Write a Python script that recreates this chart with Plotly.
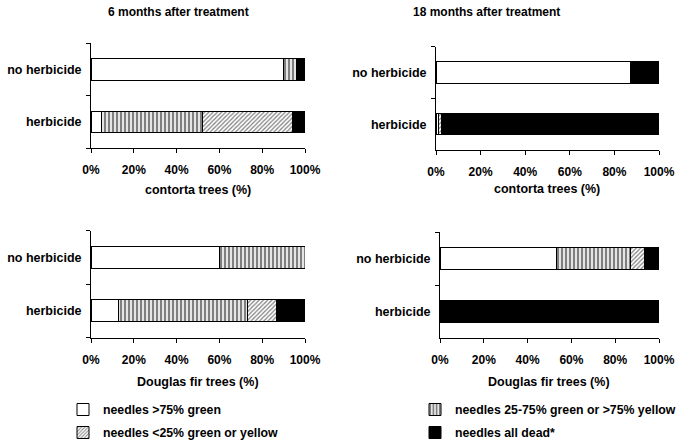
import plotly.graph_objects as go

categories = ["herbicide", "no herbicide"]

series_names = [
    "needles >75% green",
    "needles 25-75% green or >75% yellow",
    "needles <25% green or yellow",
    "needles all dead*",
]

# contorta, 6 months
c6_white = [5, 90]
c6_stripe = [47, 6]
c6_hatch = [42, 0]
c6_black = [6, 4]
# contorta, 18 months
c18_white = [1, 87]
c18_stripe = [0, 0]
c18_hatch = [1.5, 0]
c18_black = [97.5, 13]
# Douglas fir, 6 months
d6_white = [13, 60]
d6_stripe = [60, 40]
d6_hatch = [13.5, 0]
d6_black = [13.5, 0]
# Douglas fir, 18 months
d18_white = [0, 53]
d18_stripe = [0, 34]
d18_hatch = [0, 6.5]
d18_black = [100, 6.5]

panel_titles = ["6 months after treatment", "18 months after treatment"]
axis_titles = ["contorta trees (%)", "contorta trees (%)", "Douglas fir trees (%)", "Douglas fir trees (%)"]
x_ticks = [0, 20, 40, 60, 80, 100]
x_tick_labels = ["0%", "20%", "40%", "60%", "80%", "100%"]

W, H = 686, 441
FONT = "Liberation Sans, Arial, sans-serif"

styles = [
    dict(color="white", pattern=dict(shape="")),
    dict(color="white", pattern=dict(shape="|", size=4, solidity=0.6, fgcolor="black", bgcolor="white")),
    dict(color="white", pattern=dict(shape="/", size=3, solidity=0.4, fgcolor="black", bgcolor="white")),
    dict(color="black", pattern=dict(shape="")),
]

panels = [
    (c6_white, c6_stripe, c6_hatch, c6_black),
    (c18_white, c18_stripe, c18_hatch, c18_black),
    (d6_white, d6_stripe, d6_hatch, d6_black),
    (d18_white, d18_stripe, d18_hatch, d18_black),
]

# pixel geometry: (x0, x1, ytop, ybottom)
geom = [
    (91, 305, 43.3, 148),
    (436, 659, 46.7, 150),
    (91, 305, 230.7, 337.7),
    (440, 659, 232.3, 337.7),
]

legend_of = {0: "legend", 2: "legend", 1: "legend2", 3: "legend2"}

fig = go.Figure()
for p, vals in enumerate(panels):
    ax = "" if p == 0 else str(p + 1)
    for s, v in enumerate(vals):
        st = styles[s]
        fig.add_trace(go.Bar(
            y=categories, x=v, orientation="h", name=series_names[s],
            xaxis="x" + ax, yaxis="y" + ax,
            marker=dict(color=st["color"], pattern=st["pattern"],
                        line=dict(color="black", width=1)),
            showlegend=(p == 0), legend=legend_of[s], legendgroup="g%d" % s,
        ))

layout = dict(
    width=W, height=H, margin=dict(l=0, r=0, t=0, b=0, autoexpand=False),
    paper_bgcolor="white", plot_bgcolor="white",
    barmode="stack", bargap=0.59,
    font=dict(family=FONT, size=12, color="black", weight="bold"),
)

for p, (x0, x1, yt, yb) in enumerate(geom):
    ax = "" if p == 0 else str(p + 1)
    layout["xaxis" + ax] = dict(
        domain=[x0 / W, x1 / W], anchor="y" + ax, range=[0, 100],
        tickmode="array", tickvals=x_ticks, ticktext=x_tick_labels,
        ticks="outside", ticklen=4, automargin=False,
        tickcolor="black", showline=True, linecolor="black", linewidth=1,
        showgrid=False, zeroline=False, fixedrange=True,
        tickfont=dict(size=12, family=FONT, weight="bold"),
        ticklabelstandoff=7,
    )
    layout["yaxis" + ax] = dict(
        domain=[1 - yb / H, 1 - yt / H], anchor="x" + ax, type="category",
        categoryorder="array", categoryarray=categories, range=[-0.5, 1.5],
        tickson="boundaries", ticks="outside", ticklen=4, tickcolor="black",
        showline=True, linecolor="black", linewidth=1, showgrid=False,
        zeroline=False, fixedrange=True, automargin=False,
        tickfont=dict(size=12.5, family=FONT, weight="bold"),
        ticklabelstandoff=6,
    )

fig.update_layout(**layout)

ann = []
ann.append(dict(text=panel_titles[0], x=178 / W, y=1 - 12.5 / H))
ann.append(dict(text=panel_titles[1], x=486 / W, y=1 - 12.5 / H))
ann.append(dict(text=axis_titles[0], x=198 / W, y=1 - 190.5 / H, size=12.5))
ann.append(dict(text=axis_titles[1], x=547 / W, y=1 - 189 / H, size=12.5))
ann.append(dict(text=axis_titles[2], x=198 / W, y=1 - 382 / H, size=12.5))
ann.append(dict(text=axis_titles[3], x=549 / W, y=1 - 382 / H, size=12.5))
for a in ann:
    sz = a.pop("size", 12)
    fig.add_annotation(xref="paper", yref="paper", xanchor="center", yanchor="middle",
                       showarrow=False, font=dict(size=sz, family=FONT, weight="bold"), **a)

legend_common = dict(orientation="v", xanchor="left", yanchor="top", traceorder="grouped",
                     font=dict(size=12.3, family=FONT, weight="bold"),
                     bgcolor="rgba(0,0,0,0)", borderwidth=0, tracegroupgap=4,
                     itemwidth=30)
fig.update_layout(
    legend=dict(x=63 / W, y=1 - 395 / H, **legend_common),
    legend2=dict(x=415 / W, y=1 - 395 / H, **legend_common),
)

fig.write_html("out.html", config={"displayModeBar": False},
               post_script="document.body.style.margin='0';")
